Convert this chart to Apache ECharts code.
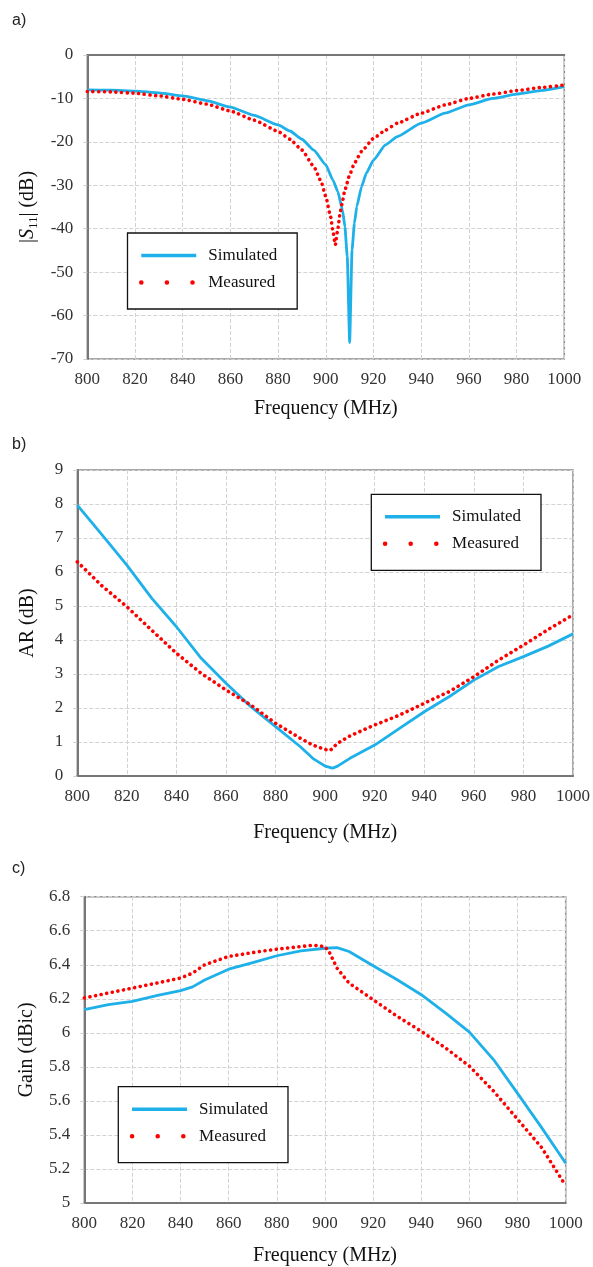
<!DOCTYPE html>
<html><head><meta charset="utf-8">
<script src="https://cdn.jsdelivr.net/npm/echarts@6/dist/echarts.min.js"></script>
<style>html,body{margin:0;padding:0;background:#fff}#c{width:593px;height:1267px}</style>
</head><body><div id="c"></div>
<script>
// ---- Data ----
const freqTicks = [800, 820, 840, 860, 880, 900, 920, 940, 960, 980, 1000];

// (a) |S11| (dB)
const freqS11Sim = [800,810,820,830,840,850,860,870,880,885,890,895,900,903,905,907,908,909,910,911,912,913,915,917,920,925,930,940,950,960,970,980,990,1000];
const s11Sim = [-8.05,-8.1,-8.3,-8.7,-9.4,-10.5,-12.0,-13.9,-16.1,-17.5,-19.4,-21.9,-25.3,-28.8,-31.4,-35.7,-39.5,-46.4,-66.2,-44.9,-38.7,-34.9,-30.3,-27.2,-24.2,-20.7,-18.8,-15.7,-13.4,-11.5,-10.0,-9.0,-8.2,-7.3];
const freqS11Meas = [800,810,820,830,840,850,860,870,880,885,890,895,898,900,902,903,904,905,906,907,908,910,912,915,920,925,930,940,950,960,970,980,990,1000];
const s11Meas = [-8.4,-8.5,-8.8,-9.4,-10.2,-11.3,-12.9,-15.0,-17.6,-19.4,-21.9,-25.7,-29.1,-32.6,-37.2,-40.6,-43.7,-40.2,-36.4,-33.7,-31.1,-27.6,-24.9,-22.2,-19.2,-17.3,-15.7,-13.4,-11.5,-10.0,-9.0,-8.2,-7.5,-6.9];

// (b) AR (dB)
const freqARSim = [800,810,820,830,840,850,860,870,880,890,895,900,903,905,910,920,930,940,950,960,970,980,990,1000];
const arSim = [7.97,7.09,6.2,5.23,4.39,3.46,2.73,2.04,1.45,0.86,0.52,0.29,0.23,0.29,0.52,0.91,1.40,1.89,2.33,2.82,3.22,3.51,3.82,4.18];
const freqARMeas = [800,810,820,830,840,850,860,870,880,890,895,900,902,905,910,920,930,940,950,960,970,980,990,1000];
const arMeas = [6.3,5.59,4.98,4.29,3.61,3.02,2.53,2.09,1.55,1.11,0.91,0.78,0.75,0.96,1.18,1.5,1.79,2.14,2.48,2.92,3.41,3.85,4.31,4.74];

// (c) Gain (dBic)
const freqGainSim = [800,810,820,830,840,845,850,860,870,880,890,900,905,910,920,930,940,950,960,970,980,990,1000];
const gainSim = [6.136,6.166,6.185,6.218,6.248,6.27,6.31,6.374,6.413,6.453,6.482,6.497,6.501,6.478,6.394,6.312,6.224,6.117,6.004,5.843,5.644,5.443,5.234];
const freqGainMeas = [800,810,820,830,840,845,850,860,870,880,890,895,900,902,905,910,920,930,940,950,960,970,980,990,1000];
const gainMeas = [6.205,6.234,6.263,6.292,6.322,6.351,6.40,6.449,6.472,6.492,6.507,6.515,6.507,6.468,6.38,6.292,6.195,6.097,6.009,5.912,5.804,5.658,5.492,5.326,5.102];

const seriesNames = ['Simulated', 'Measured'];
const panelLabels = ['a)', 'b)', 'c)'];

// ---- Styles ----
const SERIF = "'Liberation Serif','Times New Roman',serif";
const SANS = "'Liberation Sans',Arial,sans-serif";
const SIM_COLOR = '#1eb0e8';
const MEAS_COLOR = '#ff0000';

function pairs(xs, ys) { return xs.map((x, i) => [x, ys[i]]); }

const grids = [
  { left: 87.3, top: 55, width: 477, height: 304 },
  { left: 77.3, top: 470, width: 496.7, height: 306 },
  { left: 84.3, top: 896.7, width: 481.4, height: 307.3 }
].map(g => Object.assign({ show: true, borderColor: '#8c8c8c', borderWidth: 1.5, backgroundColor: '#fff' }, g));

const xNameGaps = [40, 47, 43];
const xAxes = grids.map((g, i) => ({
  type: 'value', gridIndex: i, min: freqTicks[0], max: freqTicks[freqTicks.length - 1], interval: 20,
  name: 'Frequency (MHz)', nameLocation: 'middle', nameGap: xNameGaps[i],
  nameTextStyle: { fontFamily: SERIF, fontSize: 20, color: '#111' },
  axisLine: { show: true, lineStyle: { color: '#777', width: 2 } },
  axisTick: { show: false },
  axisLabel: { fontFamily: SERIF, fontSize: 17, color: '#333', margin: 12, formatter: v => String(v) },
  splitLine: { show: true, lineStyle: { type: 'dashed', color: '#d2d2d2', width: 1 } }
}));

const yCfg = [
  { min: -70, max: 0, interval: 10, name: '|{s|S}{sub|11}| (dB)', gap: 47 },
  { min: 0, max: 9, interval: 1, name: 'AR (dB)', gap: 40 },
  { min: 5, max: 6.8, interval: 0.2, name: 'Gain (dBic)', gap: 48 }
];
const yAxes = yCfg.map((c, i) => ({
  type: 'value', gridIndex: i, min: c.min, max: c.max, interval: c.interval,
  name: c.name, nameLocation: 'middle', nameGap: c.gap,
  nameTextStyle: {
    fontFamily: SERIF, fontSize: 20, color: '#111',
    rich: {
      s: { fontFamily: SERIF, fontSize: 20, fontStyle: 'italic', color: '#111', lineHeight: 24 },
      sub: { fontFamily: SERIF, fontSize: 13, color: '#111', lineHeight: 24, verticalAlign: 'bottom' }
    }
  },
  axisLine: { show: true, lineStyle: { color: '#777', width: 2 } },
  axisTick: { show: true, length: 5, lineStyle: { color: '#cfcfcf', type: 'dashed' } },
  axisLabel: { fontFamily: SERIF, fontSize: 17, color: '#333', margin: 14 },
  splitLine: { show: true, lineStyle: { type: 'dashed', color: '#d2d2d2', width: 1 } }
}));

const simData = [pairs(freqS11Sim, s11Sim), pairs(freqARSim, arSim), pairs(freqGainSim, gainSim)];
const measData = [pairs(freqS11Meas, s11Meas), pairs(freqARMeas, arMeas), pairs(freqGainMeas, gainMeas)];
const smoothBy = [0.15, false, false];

const series = [];
for (let i = 0; i < 3; i++) {
  series.push({
    name: seriesNames[0], type: 'line', xAxisIndex: i, yAxisIndex: i, data: simData[i],
    symbol: 'none', showSymbol: false, smooth: smoothBy[i], smoothMonotone: 'x', silent: true,
    lineStyle: { color: SIM_COLOR, width: 2.8, join: 'round' }, itemStyle: { color: SIM_COLOR }, z: 2
  });
  series.push({
    name: seriesNames[1], type: 'line', xAxisIndex: i, yAxisIndex: i, data: measData[i],
    symbol: 'none', showSymbol: false, smooth: smoothBy[i], smoothMonotone: 'x', silent: true,
    lineStyle: { color: MEAS_COLOR, width: 3.6, type: [0.1, 5.6], cap: 'round' },
    itemStyle: { color: MEAS_COLOR }, z: 3
  });
}

const legendPos = [
  { left: 127.5, top: 233 },
  { left: 371.3, top: 494.3 },
  { left: 118.3, top: 1086.7 }
];
const hiddenSymbol = { color: 'rgba(0,0,0,0)', borderWidth: 0, opacity: 0 };
const legends = legendPos.map(p => ({
  orient: 'vertical', left: p.left, top: p.top,
  itemWidth: 55, itemHeight: 20, itemGap: 10,
  padding: [14, 20, 18, 11.5],
  borderColor: '#111', borderWidth: 1.3, backgroundColor: '#fff',
  selectedMode: false,
  textStyle: { fontFamily: SERIF, fontSize: 17, color: '#111', padding: [0, 0, 0, 7] },
  data: [
    { name: seriesNames[0], itemStyle: hiddenSymbol, lineStyle: { color: SIM_COLOR, width: 3.5 } },
    { name: seriesNames[1], itemStyle: hiddenSymbol, lineStyle: { color: MEAS_COLOR, width: 4.5, type: [0.1, 25.5], cap: 'round' } }
  ]
}));

const titleTops = [8, 432, 856];
const titles = panelLabels.map((t, i) => ({
  text: t, left: 7, top: titleTops[i],
  textStyle: { fontFamily: SANS, fontSize: 16, fontWeight: 'normal', color: '#222' }
}));

const chart = echarts.init(document.getElementById('c'), null, { renderer: 'canvas' });
chart.setOption({
  animation: false,
  backgroundColor: '#fff',
  title: titles,
  legend: legends,
  grid: grids,
  xAxis: xAxes,
  yAxis: yAxes,
  series: series
});
</script>
</body></html>
